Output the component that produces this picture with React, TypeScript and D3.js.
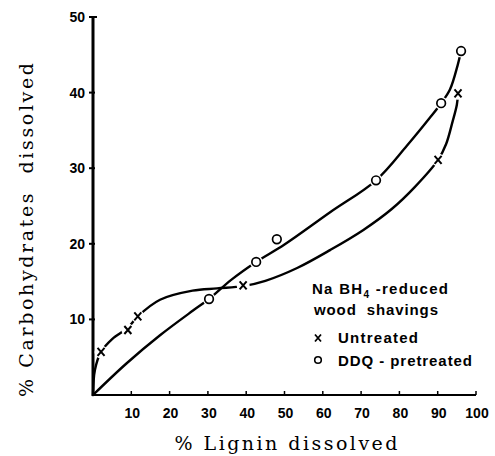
import React, { useEffect, useRef } from "react";
import * as d3 from "d3";

// measured points
const untreatedX = [2.1, 9.1, 11.7, 39.2, 90.1, 95.3];
const untreatedY = [5.7, 8.6, 10.4, 14.5, 31.1, 39.9];
const ddqX = [30.3, 42.6, 48.0, 73.9, 90.9, 96.1];
const ddqY = [12.7, 17.6, 20.6, 28.4, 38.6, 45.5];

// hand-drawn curves
const untreatedCurveX = [0, 0.5, 2.1, 5, 9.1, 11.7, 17.5, 26, 32.4, 39.2, 45, 53.3, 62, 70.5, 78, 84, 90.1, 92.2, 93.9, 95, 95.3];
const untreatedCurveY = [0, 3.3, 5.7, 7.4, 8.9, 10.4, 12.6, 13.8, 14.1, 14.4, 15.1, 16.8, 19.2, 21.8, 24.6, 27.5, 31.1, 33.2, 36.2, 38.4, 39.9];
const ddqCurveX = [0, 8.8, 17.5, 26.2, 30.3, 36, 42.6, 50, 62, 73.9, 82, 88, 90.9, 93.2, 95.3, 96.1];
const ddqCurveY = [0, 4.2, 7.9, 11.2, 12.7, 15.2, 17.6, 19.9, 24.2, 28.4, 33.0, 36.7, 38.6, 40.4, 43.8, 45.5];

const xTicks = [10, 20, 30, 40, 50, 60, 70, 80, 90, 100];
const yTicks = [10, 20, 30, 40, 50];

const width = 495;
const height = 456;

const App = () => {
    const ref = useRef<SVGSVGElement>(null);

    useEffect(() => {
        const svg = d3.select(ref.current);
        svg.selectAll("*").remove();

        const xScale = d3.scaleLinear().domain([0, 100]).range([93, 476]);
        const yScale = d3.scaleLinear().domain([0, 50]).range([395, 17]);
        const tickFont = "'Liberation Sans', Arial, sans-serif";

        // x axis
        const xAxis = svg.append("g");
        xAxis.append("line")
            .attr("x1", xScale(0)).attr("x2", xScale(100))
            .attr("y1", yScale(0)).attr("y2", yScale(0))
            .attr("stroke", "black").attr("stroke-width", 2);
        xTicks.forEach((t) => {
            xAxis.append("line")
                .attr("x1", xScale(t)).attr("x2", xScale(t))
                .attr("y1", yScale(0)).attr("y2", yScale(0) - 4)
                .attr("stroke", "black").attr("stroke-width", 1.5);
            xAxis.append("text")
                .attr("x", xScale(t) + 1)
                .attr("y", 418)
                .attr("text-anchor", "middle")
                .style("font-family", tickFont)
                .style("font-weight", "bold")
                .style("font-size", "14px")
                .text(t);
        });

        // y axis
        const yAxis = svg.append("g");
        yAxis.append("line")
            .attr("x1", xScale(0)).attr("x2", xScale(0))
            .attr("y1", yScale(0) + 1).attr("y2", yScale(50))
            .attr("stroke", "black").attr("stroke-width", 3);
        yTicks.forEach((t) => {
            yAxis.append("line")
                .attr("x1", xScale(0) - 4).attr("x2", xScale(0) + (t === 50 ? 4 : 2))
                .attr("y1", yScale(t)).attr("y2", yScale(t))
                .attr("stroke", "black").attr("stroke-width", 2);
            yAxis.append("text")
                .attr("x", 85)
                .attr("y", yScale(t) + 5)
                .attr("text-anchor", "end")
                .style("font-family", tickFont)
                .style("font-weight", "bold")
                .style("font-size", "14px")
                .text(t);
        });

        // axis titles
        svg.append("text")
            .attr("x", 286)
            .attr("y", 450)
            .attr("text-anchor", "middle")
            .attr("textLength", 223)
            .attr("lengthAdjust", "spacing")
            .style("font-family", "'DejaVu Serif', serif")
            .style("font-size", "19px")
            .text("% Lignin dissolved");

        svg.append("text")
            .attr("transform", "translate(33,230) rotate(-90)")
            .attr("text-anchor", "middle")
            .attr("textLength", 334)
            .attr("lengthAdjust", "spacing")
            .style("font-family", "'DejaVu Serif', serif")
            .style("font-size", "19px")
            .style("white-space", "pre")
            .text("% Carbohydrates  dissolved");

        // curves
        const line = d3.line<[number, number]>()
            .x((d) => xScale(d[0]))
            .y((d) => yScale(d[1]))
            .curve(d3.curveCatmullRom.alpha(0.5));

        const untreatedCurve = untreatedCurveX.map((x, i) => [x, untreatedCurveY[i]] as [number, number]);
        const ddqCurve = ddqCurveX.map((x, i) => [x, ddqCurveY[i]] as [number, number]);

        [untreatedCurve, ddqCurve].forEach((c) => {
            svg.append("path")
                .attr("d", line(c))
                .attr("fill", "none")
                .attr("stroke", "black")
                .attr("stroke-width", 2.4)
                .attr("stroke-linecap", "round");
        });

        // gaps behind markers
        const allX = untreatedX.concat(ddqX);
        const allY = untreatedY.concat(ddqY);
        svg.selectAll(".gap")
            .data(allX)
            .enter()
            .append("circle")
            .attr("class", "gap")
            .attr("cx", (d) => xScale(d))
            .attr("cy", (d, i) => yScale(allY[i]))
            .attr("r", 6.5)
            .attr("fill", "white");

        // x markers
        const cross = svg.append("g");
        untreatedX.forEach((x, i) => {
            const cx = xScale(x);
            const cy = yScale(untreatedY[i]);
            cross.append("path")
                .attr("d", `M${cx - 3.5},${cy - 4}L${cx + 3.5},${cy + 4}M${cx + 3.5},${cy - 4}L${cx - 3.5},${cy + 4}`)
                .attr("stroke", "black")
                .attr("stroke-width", 2);
        });

        // o markers
        svg.selectAll(".ddq")
            .data(ddqX)
            .enter()
            .append("circle")
            .attr("class", "ddq")
            .attr("cx", (d) => xScale(d))
            .attr("cy", (d, i) => yScale(ddqY[i]))
            .attr("r", 4.3)
            .attr("fill", "white")
            .attr("stroke", "black")
            .attr("stroke-width", 1.7);

        // legend
        const legendFont = "'Liberation Sans', Arial, sans-serif";
        const legend = svg.append("g")
            .style("font-family", legendFont)
            .style("font-weight", "bold")
            .style("font-size", "15px");

        const title = legend.append("text")
            .attr("x", 312)
            .attr("y", 294)
            .attr("textLength", 136)
            .attr("lengthAdjust", "spacing")
            .style("white-space", "pre");
        title.append("tspan").text("Na BH");
        title.append("tspan").attr("dy", 4).style("font-size", "10px").text("4");
        title.append("tspan").attr("dy", -4).text(" -reduced");

        legend.append("text")
            .attr("x", 314)
            .attr("y", 315)
            .attr("textLength", 124)
            .attr("lengthAdjust", "spacing")
            .style("white-space", "pre")
            .text("wood  shavings");

        const lx = 318;
        legend.append("path")
            .attr("d", `M${lx - 3},${338 - 3.5}L${lx + 3},${338 + 3.5}M${lx + 3},${338 - 3.5}L${lx - 3},${338 + 3.5}`)
            .attr("stroke", "black")
            .attr("stroke-width", 1.8);
        legend.append("text")
            .attr("x", 338)
            .attr("y", 343)
            .attr("textLength", 80)
            .attr("lengthAdjust", "spacing")
            .text("Untreated");

        legend.append("circle")
            .attr("cx", lx)
            .attr("cy", 360)
            .attr("r", 3.3)
            .attr("fill", "white")
            .attr("stroke", "black")
            .attr("stroke-width", 1.6);
        legend.append("text")
            .attr("x", 338)
            .attr("y", 366)
            .attr("textLength", 134)
            .attr("lengthAdjust", "spacing")
            .style("white-space", "pre")
            .text("DDQ - pretreated");
    }, []);

    return (
        <svg
            ref={ref}
            width={width}
            height={height}
            style={{ position: "absolute", left: 0, top: 0, background: "white" }}
        />
    );
};

export default App;
